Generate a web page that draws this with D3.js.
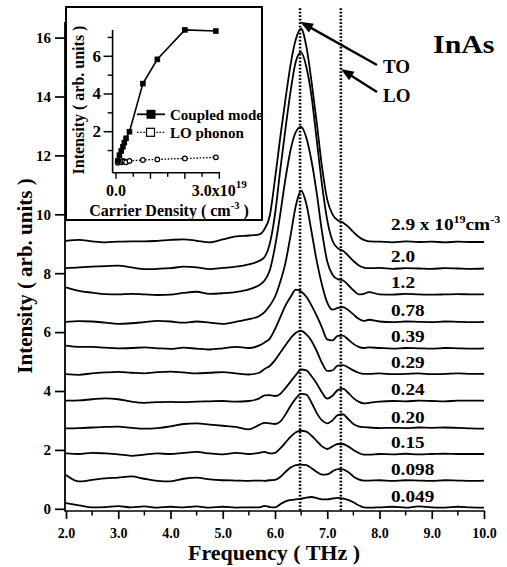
<!DOCTYPE html>
<html><head><meta charset="utf-8">
<script src="https://cdn.jsdelivr.net/npm/d3@7"></script>
<style>
html,body{margin:0;padding:0;background:#fff;}
svg{display:block;}
text{font-family:"Liberation Serif","Times New Roman",serif;font-weight:bold;fill:#000;}
</style></head><body>
<svg id="chart" width="507" height="567"></svg>
<script>
// ---------- DATA ----------
const freq = [2.0,2.25,2.5,2.75,3.0,3.25,3.5,3.75,4.0,4.25,4.5,4.75,5.0,5.25,5.5,5.7,5.8,5.9,6.0,6.1,6.2,6.3,6.4,6.5,6.6,6.7,6.8,6.9,7.0,7.1,7.2,7.3,7.4,7.5,7.6,7.7,7.8,8.0,8.25,8.5,8.75,9.0,9.25,9.5,9.75,10.0];

const s290 = [9.10,9.13,9.08,9.05,9.07,9.08,9.08,9.10,9.13,9.15,9.10,9.05,9.15,9.25,9.28,9.32,9.50,9.95,11.2,12.6,13.9,15.1,15.95,16.3,15.7,14.5,13.1,11.6,10.5,10.0,9.80,9.72,9.58,9.40,9.24,9.13,9.08,9.07,9.05,9.08,9.06,9.07,9.05,9.07,9.06,9.06];
const s200 = [8.17,8.20,8.22,8.24,8.26,8.20,8.14,8.15,8.17,8.22,8.20,8.14,8.18,8.22,8.30,8.42,8.55,9.00,10.0,11.5,12.9,14.2,15.2,15.5,15.0,14.0,12.5,11.0,9.80,9.10,8.85,8.76,8.60,8.42,8.27,8.19,8.17,8.18,8.15,8.17,8.16,8.15,8.17,8.16,8.15,8.16];
const s120 = [7.52,7.40,7.34,7.29,7.28,7.30,7.28,7.26,7.27,7.33,7.37,7.30,7.32,7.36,7.45,7.60,7.75,8.10,8.90,10.0,11.2,12.2,12.8,12.97,12.6,11.8,10.7,9.40,8.40,7.95,7.80,7.76,7.60,7.42,7.28,7.30,7.36,7.28,7.27,7.30,7.28,7.27,7.28,7.29,7.28,7.28];
const s078 = [6.35,6.37,6.36,6.32,6.28,6.30,6.34,6.38,6.36,6.32,6.36,6.32,6.28,6.35,6.44,6.55,6.68,6.90,7.20,7.70,8.35,9.30,10.3,10.8,10.35,9.40,8.40,7.60,7.00,6.76,6.82,6.85,6.75,6.60,6.45,6.38,6.42,6.36,6.34,6.36,6.35,6.34,6.36,6.35,6.34,6.35];
const s039 = [5.54,5.50,5.50,5.47,5.45,5.46,5.48,5.45,5.43,5.47,5.44,5.41,5.45,5.50,5.46,5.55,5.65,5.78,6.10,6.50,6.90,7.20,7.44,7.38,7.20,6.90,6.55,6.15,5.75,5.72,5.87,5.88,5.75,5.60,5.50,5.46,5.48,5.46,5.44,5.46,5.45,5.44,5.46,5.45,5.44,5.45];
const s029 = [4.57,4.55,4.60,4.63,4.65,4.62,4.60,4.64,4.66,4.63,4.60,4.62,4.64,4.60,4.56,4.62,4.75,4.85,5.05,5.30,5.55,5.80,5.98,6.04,5.92,5.70,5.35,4.95,4.68,4.70,4.86,4.88,4.80,4.70,4.62,4.58,4.58,4.60,4.57,4.58,4.60,4.57,4.58,4.60,4.58,4.58];
const s024 = [3.67,3.68,3.72,3.75,3.72,3.64,3.60,3.62,3.63,3.62,3.64,3.65,3.66,3.64,3.66,3.75,3.85,3.86,3.83,3.90,4.10,4.32,4.55,4.73,4.70,4.50,4.25,3.95,3.74,3.84,4.03,4.08,3.94,3.76,3.64,3.58,3.60,3.64,3.66,3.65,3.67,3.66,3.65,3.67,3.67,3.67];
const s020 = [2.73,2.74,2.76,2.78,2.79,2.75,2.72,2.74,2.80,2.88,2.90,2.86,2.82,2.78,2.70,2.85,2.92,2.90,2.88,2.96,3.20,3.50,3.75,3.90,3.88,3.60,3.25,3.00,2.90,3.00,3.18,3.21,3.05,2.88,2.80,2.77,2.76,2.74,2.75,2.74,2.76,2.75,2.76,2.75,2.73,2.72];
const s015 = [1.88,1.86,1.90,1.88,1.85,1.80,1.84,1.88,1.86,1.90,1.93,1.88,1.85,1.90,1.86,1.90,1.93,1.88,1.90,2.05,2.25,2.45,2.60,2.65,2.62,2.48,2.30,2.12,2.03,2.12,2.20,2.20,2.12,2.00,1.90,1.84,1.84,1.86,1.85,1.87,1.85,1.86,1.87,1.86,1.86,1.86];
const s0098 = [1.15,0.93,0.98,1.03,1.06,1.10,1.02,0.95,0.93,1.02,1.06,1.00,0.97,0.96,0.95,0.96,0.95,0.97,0.98,1.08,1.25,1.40,1.48,1.50,1.48,1.38,1.25,1.16,1.17,1.27,1.35,1.34,1.25,1.10,1.00,0.96,0.96,0.97,0.95,0.97,0.96,0.95,0.97,0.96,0.95,0.96];
const s0049 = [0.19,0.12,0.05,0.06,0.09,0.05,0.08,0.04,0.07,0.05,0.08,0.04,0.07,0.04,0.05,0.05,0.10,0.06,0.05,0.15,0.25,0.30,0.32,0.34,0.38,0.40,0.36,0.32,0.32,0.35,0.37,0.35,0.30,0.22,0.12,0.05,0.04,0.05,0.07,0.04,0.08,0.05,0.04,0.07,0.05,0.04];

const spectra = [s290,s200,s120,s078,s039,s029,s024,s020,s015,s0098,s0049];
const densityLabels = ["2.9","2.0","1.2","0.78","0.39","0.29","0.24","0.20","0.15","0.098","0.049"];

const mainYTicks = [0,2,4,6,8,10,12,14,16];
const mainXTicks = [2,3,4,5,6,7,8,9,10];
const mainXMinor = [2.5,3.5,4.5,5.5,6.5,7.5,8.5,9.5];

const modeNames = ["TO","LO"];
const modeFreq = [6.48,7.26];

// inset
const density = [0.049,0.098,0.15,0.20,0.24,0.29,0.39,0.78,1.2,2.0,2.9];
const coupledMode = [0.45,0.75,0.98,1.2,1.42,1.65,2.0,4.55,5.84,7.4,7.34];
const loPhonon = [0.35,0.40,0.38,0.45,0.42,0.38,0.45,0.50,0.53,0.58,0.64];
const insetYMajor = [2,4,6];
const insetYMinor = [1,3,5,7];
const insetXTicks = [0,0.5,1,1.5,2,2.5,3];

// ---------- DRAW ----------
const svg = d3.select("#chart");
svg.append("rect").attr("width",507).attr("height",567).attr("fill","#fff");

const x = d3.scaleLinear().domain([2,10]).range([66,484]);
const y = d3.scaleLinear().domain([0,16]).range([508.8,37.6]);
const axisY = 511;

// dotted phonon lines
svg.selectAll("line.mode").data(modeFreq).enter().append("line")
  .attr("x1",d=>x(d)).attr("x2",d=>x(d))
  .attr("y1",y(17.0)).attr("y2",axisY)
  .attr("stroke","#000").attr("stroke-width",2.6)
  .attr("stroke-dasharray","1.9,1.6");

// spectra
const line = d3.line().x((d,i)=>x(freq[i])).y(d=>y(d)).curve(d3.curveMonotoneX);
svg.selectAll("path.spec").data(spectra).enter().append("path")
  .attr("d",line).attr("fill","none").attr("stroke","#000")
  .attr("stroke-width",1.8).attr("stroke-linejoin","round");

// axes
svg.append("line").attr("x1",65).attr("x2",65).attr("y1",22).attr("y2",axisY+0.5)
  .attr("stroke","#000").attr("stroke-width",1.8);
svg.append("line").attr("x1",65).attr("x2",x(10)+0.8).attr("y1",axisY).attr("y2",axisY)
  .attr("stroke","#000").attr("stroke-width",1.6);

const gy = svg.append("g").attr("transform","translate(65,0)")
  .call(d3.axisLeft(y).tickValues(mainYTicks).tickSize(10).tickSizeOuter(0).tickPadding(4).tickFormat(d3.format("d")));
gy.select(".domain").remove();
gy.selectAll(".tick line").attr("stroke-width",1.7);
gy.selectAll(".tick text").style("font-size","15px").style("font-family","Liberation Serif").style("font-weight","bold");

const gx = svg.append("g").attr("transform",`translate(0,${axisY})`)
  .call(d3.axisBottom(x).tickValues(mainXTicks).tickSize(8).tickSizeOuter(0).tickPadding(9).tickFormat(d3.format(".1f")));
gx.select(".domain").remove();
gx.selectAll(".tick line").attr("stroke-width",1.7);
gx.selectAll(".tick text").style("font-size","14px").style("font-family","Liberation Serif").style("font-weight","bold");
svg.append("g").selectAll("line").data(mainXMinor).enter().append("line")
  .attr("x1",d=>x(d)).attr("x2",d=>x(d)).attr("y1",axisY).attr("y2",axisY+4.5)
  .attr("stroke","#000").attr("stroke-width",1.5);

// axis titles
svg.append("text").attr("x",274).attr("y",560).attr("text-anchor","middle")
  .style("font-size","22px").text("Frequency ( THz )");
svg.append("text").attr("transform","translate(32,276) rotate(-90)").attr("text-anchor","middle")
  .style("font-size","21px").text("Intensity ( arb. units )");

// curve labels
const lbl = svg.append("g").selectAll("text").data(densityLabels).enter().append("text")
  .attr("transform",(d,i)=>{
    const last = spectra[i][spectra[i].length-1];
    return `translate(391,${y(last)-(i===0?12:6)}) scale(1.1,1)`;})
  .style("font-size","17.5px");
lbl.each(function(d,i){
  const t = d3.select(this);
  if(i===0){
    t.append("tspan").text(d+" x 10");
    t.append("tspan").attr("dy",-7).style("font-size","11px").text("19");
    t.append("tspan").attr("dy",7).text("cm");
    t.append("tspan").attr("dy",-7).style("font-size","11px").text("-3");
  } else t.text(d);
});

// InAs
svg.append("text").attr("transform","translate(433,53) scale(1.15,1)")
  .style("font-size","26px").text("InAs");

// arrows and TO / LO labels
const tails = [[377,65],[377,92]];
const tips = [[x(modeFreq[0]),y(16.54)],[x(modeFreq[1]),y(14.93)]];
tips.forEach((tp,i)=>{
  const tl = tails[i];
  const dx = tp[0]-tl[0], dy = tp[1]-tl[1], L = Math.hypot(dx,dy);
  const ux = dx/L, uy = dy/L, hl = 13, hw = 5;
  const bx = tp[0]-ux*hl, by = tp[1]-uy*hl;
  svg.append("line").attr("x1",tl[0]).attr("y1",tl[1]).attr("x2",bx+ux*2).attr("y2",by+uy*2)
    .attr("stroke","#000").attr("stroke-width",2.4);
  svg.append("path").attr("d",`M${tp[0]},${tp[1]}L${bx-uy*hw},${by+ux*hw}L${bx+uy*hw},${by-ux*hw}Z`)
    .attr("fill","#000");
});
svg.selectAll("text.mode").data(modeNames).enter().append("text")
  .attr("x",383).attr("y",(d,i)=>[73.3,101.7][i]).style("font-size","19px").text(d=>d);

// ---------- INSET ----------
const ins = svg.append("g");
ins.append("rect").attr("x",66).attr("y",7).attr("width",196).attr("height",213)
  .attr("fill","#fff").attr("stroke","#000").attr("stroke-width",2);
svg.append("clipPath").attr("id","insclip").append("rect").attr("x",66).attr("y",7).attr("width",195).attr("height",213);

const ix = d3.scaleLinear().domain([-0.1,3.0]).range([112.6,219.3]);
const iy = d3.scaleLinear().domain([-0.18,7.4]).range([172.8,29.9]);

ins.append("line").attr("x1",ix(-0.1)).attr("x2",ix(-0.1)).attr("y1",iy(7.4)).attr("y2",iy(-0.18))
  .attr("stroke","#000").attr("stroke-width",1.6);
ins.append("line").attr("x1",ix(-0.1)).attr("x2",ix(3.0)+0.8).attr("y1",iy(-0.18)).attr("y2",iy(-0.18))
  .attr("stroke","#000").attr("stroke-width",1.6);
ins.selectAll("line.iyM").data(insetYMajor).enter().append("line")
  .attr("x1",ix(-0.1)-9).attr("x2",ix(-0.1)).attr("y1",d=>iy(d)).attr("y2",d=>iy(d))
  .attr("stroke","#000").attr("stroke-width",1.5);
ins.selectAll("line.iym").data(insetYMinor).enter().append("line")
  .attr("x1",ix(-0.1)-5).attr("x2",ix(-0.1)).attr("y1",d=>iy(d)).attr("y2",d=>iy(d))
  .attr("stroke","#000").attr("stroke-width",1.4);
ins.selectAll("text.iyl").data(insetYMajor).enter().append("text")
  .attr("x",101).attr("y",d=>iy(d)+5.5).attr("text-anchor","end")
  .style("font-size","17px").text(d=>d);
ins.selectAll("line.ixt").data(insetXTicks).enter().append("line")
  .attr("x1",d=>ix(d)).attr("x2",d=>ix(d)).attr("y1",iy(-0.18))
  .attr("y2",d=>iy(-0.18)+(Number.isInteger(d)?6:4))
  .attr("stroke","#000").attr("stroke-width",1.4);
ins.append("text").attr("x",ix(0)).attr("y",195.5).attr("text-anchor","middle")
  .style("font-size","16px").text("0.0");
const t30 = ins.append("text").attr("x",ix(3.0)).attr("y",195.5).attr("text-anchor","middle").style("font-size","16px");
t30.append("tspan").text("3.0x10");
t30.append("tspan").attr("dy",-8).style("font-size","11px").text("19");
const tcd = ins.append("text").attr("x",169).attr("y",216).attr("text-anchor","middle").style("font-size","16px");
tcd.append("tspan").text("Carrier Density ( cm");
tcd.append("tspan").attr("dy",-7).style("font-size","10.5px").text("-3");
tcd.append("tspan").attr("dy",7).text(" )");
ins.append("text").attr("transform","translate(84,100) rotate(-90)").attr("text-anchor","middle")
  .style("font-size","16px").text("Intensity ( arb. units )");

// inset series
const cLine = d3.line().x((d,i)=>ix(density[i])).y(d=>iy(d));
ins.append("path").attr("d",cLine(loPhonon)).attr("fill","none").attr("stroke","#000")
  .attr("stroke-width",1.3).attr("stroke-dasharray","1.6,1.6");
ins.append("path").attr("d",cLine(coupledMode)).attr("fill","none").attr("stroke","#000")
  .attr("stroke-width",1.6);
ins.selectAll("circle.lo").data(loPhonon).enter().append("circle")
  .attr("cx",(d,i)=>ix(density[i])).attr("cy",d=>iy(d)).attr("r",2.3)
  .attr("fill","#fff").attr("stroke","#000").attr("stroke-width",1.2);
ins.selectAll("rect.cm").data(coupledMode).enter().append("rect")
  .attr("x",(d,i)=>ix(density[i])-2.8).attr("y",d=>iy(d)-2.8).attr("width",5.6).attr("height",5.6)
  .attr("fill","#000");

// legend
const lg = ins.append("g").attr("clip-path","url(#insclip)");
lg.append("line").attr("x1",137).attr("x2",165).attr("y1",114.3).attr("y2",114.3)
  .attr("stroke","#000").attr("stroke-width",1.8);
lg.append("rect").attr("x",146.5).attr("y",109.8).attr("width",9).attr("height",9).attr("fill","#000");
lg.append("line").attr("x1",137).attr("x2",165).attr("y1",132.3).attr("y2",132.3)
  .attr("stroke","#000").attr("stroke-width",1.3).attr("stroke-dasharray","1.6,1.6");
lg.append("rect").attr("x",146.5).attr("y",128.3).attr("width",8).attr("height",8)
  .attr("fill","#fff").attr("stroke","#000").attr("stroke-width",1.2);
lg.append("text").attr("x",170).attr("y",119.5).style("font-size","15px").text("Coupled mode");
lg.append("text").attr("x",170).attr("y",137.5).style("font-size","15px").text("LO phonon");
</script>
</body></html>
